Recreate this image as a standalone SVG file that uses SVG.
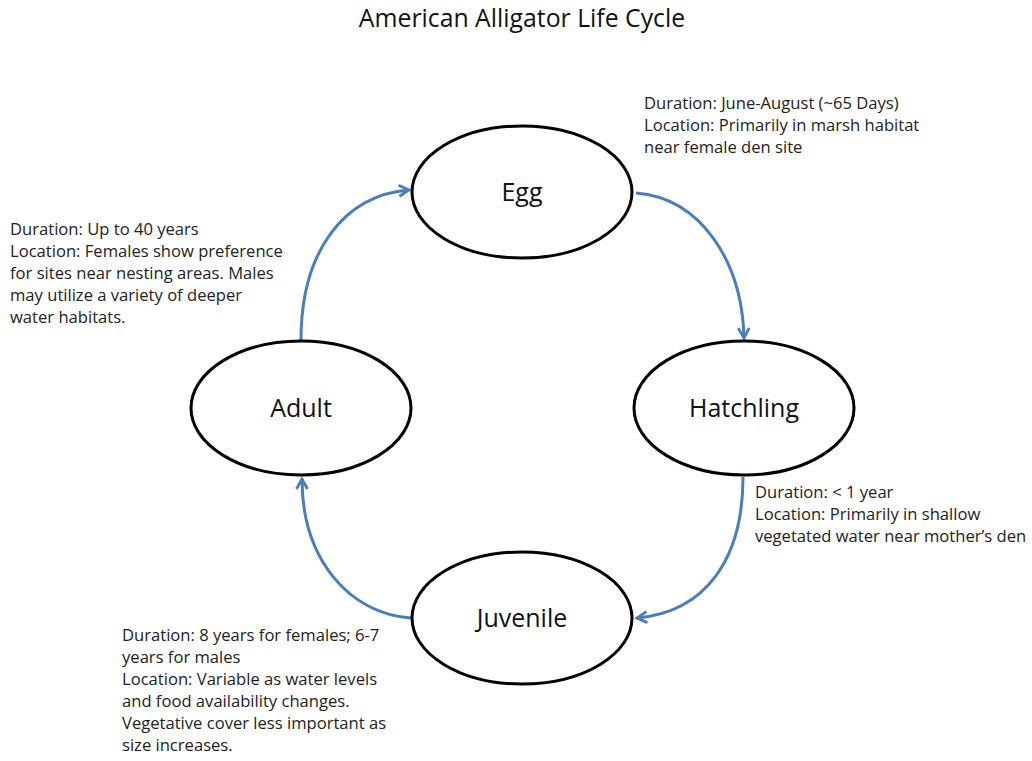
<svg xmlns="http://www.w3.org/2000/svg" width="1032" height="761" viewBox="0 0 1032 761">
<defs>
<style>
.node{fill:#fff;stroke:#000;stroke-width:3}
.lbl{font-family:"Open Sans","Liberation Sans",sans-serif;font-size:25px;fill:#111;text-anchor:middle;dominant-baseline:central}
.ann{font-family:"Open Sans","Liberation Sans",sans-serif;font-size:16.6px;fill:#222}
.title{font-family:"Open Sans","Liberation Sans",sans-serif;font-size:24.8px;fill:#111;text-anchor:middle}
.arr{fill:none;stroke:#4a7ebb;stroke-width:3;marker-end:url(#ah)}
</style>
<marker id="ah" viewBox="0 0 14 14" refX="12" refY="7" markerWidth="14" markerHeight="14" markerUnits="userSpaceOnUse" orient="auto">
<path d="M2,1.5 L12,7 L2,12.5" fill="none" stroke="#4a7ebb" stroke-width="2.8"/>
</marker>
</defs>
<rect width="1032" height="761" fill="#fff"/>
<text class="title" x="522" y="27">American Alligator Life Cycle</text>
<g id="connectors">
<path class="arr" d="M301,340 C301,250 345,195 409,190"/>
<path class="arr" d="M636,193 C700,198 742,260 744,338"/>
<path class="arr" d="M743,477 C743,560 705,612 637,618"/>
<path class="arr" d="M411,618 C350,614 302,560 302,479"/>
</g>
<g id="egg">
<ellipse class="node" cx="522" cy="192" rx="110" ry="66"/>
<text class="lbl" x="522" y="191">Egg</text>
</g>
<g id="hatchling">
<ellipse class="node" cx="744" cy="408" rx="110" ry="67"/>
<text class="lbl" x="744" y="407">Hatchling</text>
</g>
<g id="juvenile">
<ellipse class="node" cx="522" cy="618" rx="110" ry="66"/>
<text class="lbl" x="522" y="617">Juvenile</text>
</g>
<g id="adult">
<ellipse class="node" cx="301" cy="408" rx="110" ry="67"/>
<text class="lbl" x="301" y="407">Adult</text>
</g>
<g id="egg-note">
<text class="ann" x="644" y="109">Duration: June-August (~65 Days)</text>
<text class="ann" x="644" y="131">Location: Primarily in marsh habitat</text>
<text class="ann" x="644" y="153">near female den site</text>
</g>
<g id="adult-note">
<text class="ann" x="10" y="235">Duration: Up to 40 years</text>
<text class="ann" x="10" y="257">Location: Females show preference</text>
<text class="ann" x="10" y="279">for sites near nesting areas. Males</text>
<text class="ann" x="10" y="301">may utilize a variety of deeper</text>
<text class="ann" x="10" y="323">water habitats.</text>
</g>
<g id="hatchling-note">
<text class="ann" x="755" y="498">Duration: &lt; 1 year</text>
<text class="ann" x="755" y="520">Location: Primarily in shallow</text>
<text class="ann" x="755" y="542">vegetated water near mother’s den</text>
</g>
<g id="juvenile-note">
<text class="ann" x="122" y="641">Duration: 8 years for females; 6-7</text>
<text class="ann" x="122" y="663">years for males</text>
<text class="ann" x="122" y="685">Location: Variable as water levels</text>
<text class="ann" x="122" y="707">and food availability changes.</text>
<text class="ann" x="122" y="729">Vegetative cover less important  as</text>
<text class="ann" x="122" y="751">size increases.</text>
</g>
</svg>
